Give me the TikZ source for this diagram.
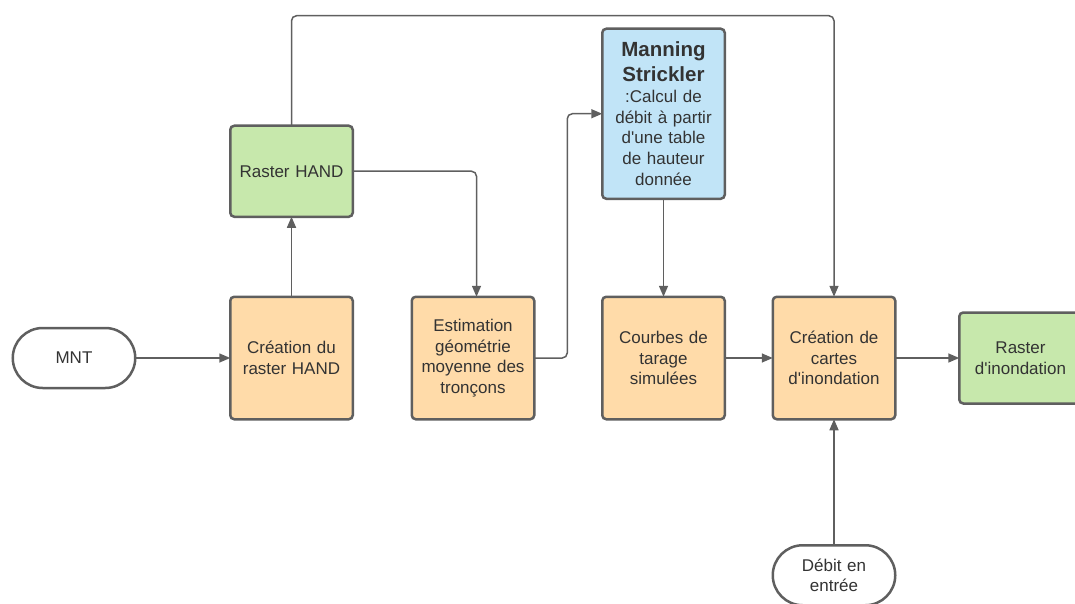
\documentclass[tikz,border=0pt]{standalone}
\usepackage{fontspec}
\setmainfont{Liberation Sans}
\usepackage{tikz}
\usepackage{xcolor}
\usetikzlibrary{arrows.meta,positioning}

\definecolor{lineg}{HTML}{5F5F5F}
\definecolor{txtg}{HTML}{333333}
\definecolor{orfill}{HTML}{FFDBA9}
\definecolor{grfill}{HTML}{C7E8AC}
\definecolor{blfill}{HTML}{C1E4F7}
\newcommand{\apos}{\textquotesingle}

\tikzset{
  box/.style={draw=lineg,line width=2.5pt,rounded corners=4pt,text=txtg,
    inner sep=0pt,outer sep=0pt,minimum width=122.5pt,text width=112pt,
    align=center,font=\fontsize{17}{20.7}\selectfont},
  proc/.style={box,fill=orfill,minimum height=122.5pt},
  result/.style={box,fill=grfill,minimum height=91pt},
  info/.style={box,fill=blfill,minimum height=170pt},
  term/.style={box,fill=white,minimum height=60pt,rounded corners=30pt},
  flow/.style={draw=lineg,line width=1.5pt,rounded corners=5pt,
    -{Triangle[length=11pt,width=9pt]}}
}

\begin{document}
\begin{tikzpicture}[node distance=60pt]
\useasboundingbox (0,0) rectangle (1075pt,-604pt);
 \node[term] (mnt) at (74pt,-358pt) {MNT};
 \node[proc,right=95pt of mnt] (crea) {Création du\\raster HAND};
 \node[result,above=80pt of crea] (rhand) {Raster HAND};
 \node[proc,right=59pt of crea] (estim) {Estimation\\géométrie\\moyenne des\\tronçons};
 \node[proc,right=68pt of estim] (courbes) {Courbes de\\tarage\\simulées};
 \node[info,above=98pt of courbes] (mann)
  {{\fontsize{20.5}{25}\selectfont\bfseries Manning\\Strickler\\}%
   :Calcul de\\débit à partir\\d\apos une table\\de hauteur\\donnée};
 \node[proc,right=48pt of courbes] (cartes) {Création de\\cartes\\d\apos inondation};
 \node[result,right=64pt of cartes] (rinond) {Raster\\d\apos inondation};
 \node[term,below=126pt of cartes] (debit) {Débit en\\entrée};
 \coordinate[above=110pt of rhand.north] (ltop);
 % connectors
 \draw[flow] (mnt) -- (crea);
 \draw[flow] (crea) -- (rhand);
 \draw[flow] (rhand.north) -- (ltop) -| (cartes.north);
 \draw[flow] (rhand.east) -| ([xshift=3.5pt]estim.north);
 \draw[flow] (estim.east) -- ++(33pt,0) |- (mann.west);
 \draw[flow] (mann) -- (courbes);
 \draw[flow] (courbes) -- (cartes);
 \draw[flow] (cartes) -- (rinond);
 \draw[flow] (debit) -- (cartes);
\end{tikzpicture}
\end{document}
